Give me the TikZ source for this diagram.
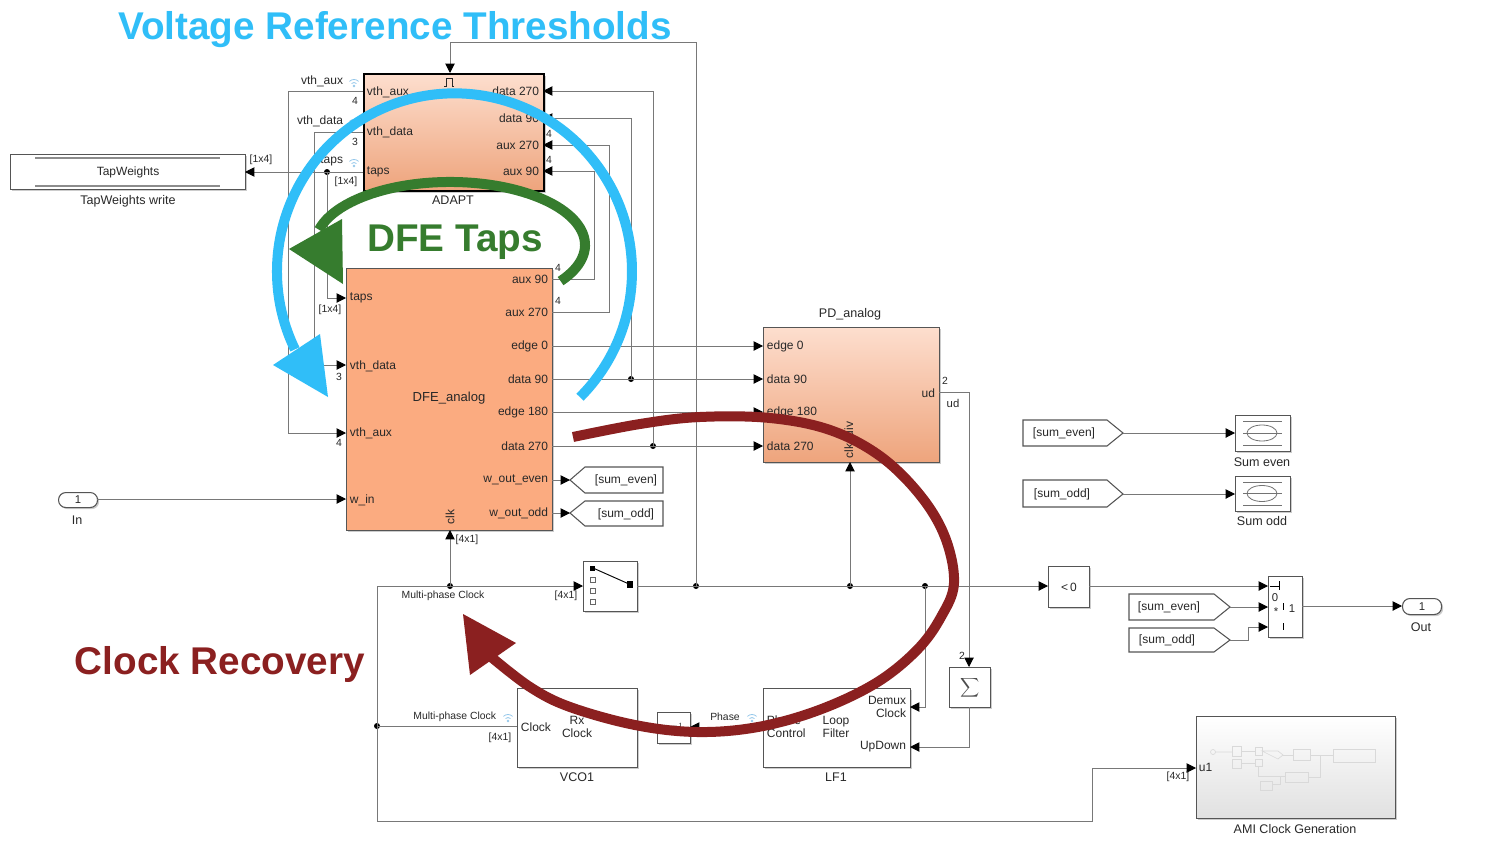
\documentclass[tikz,border=0pt]{standalone}
\usepackage{fontspec}
\setmainfont{Liberation Sans}
\usetikzlibrary{arrows.meta,calc,shadows}
\definecolor{wire}{RGB}{120,120,120}
\definecolor{txt}{RGB}{40,40,40}
\definecolor{bord}{RGB}{85,85,85}
\definecolor{dfefill}{RGB}{251,171,128}
\definecolor{peachtop}{RGB}{253,222,206}
\definecolor{peachbot}{RGB}{238,164,124}
\definecolor{annblue}{RGB}{48,190,248}
\definecolor{anngreen}{RGB}{54,124,46}
\definecolor{annred}{RGB}{139,32,32}
\definecolor{wifiblue}{RGB}{150,200,235}
\newcommand\mkblock[7]{%
  \pgfmathsetmacro\blkw{(#5-#3)*0.75}%
  \pgfmathsetmacro\blkh{(#6-#4)*0.75}%
  \node[#2, minimum width=\blkw pt, minimum height=\blkh pt, inner sep=0pt, anchor=north west, align=center] (#1) at (#3,#4) {#7};}
\begin{document}
\begin{tikzpicture}[x=0.75pt,y=-0.75pt,
  wire/.style={draw=wire, line width=0.75pt},
  arr/.style={draw=wire, line width=0.75pt, -{Triangle[length=7pt,width=7pt,color=black]}},
  jdot/.style={circle, fill=black, inner sep=0pt, minimum size=4.5pt},
  lbl/.style={text=txt, inner sep=0.5pt, font=\fontsize{9}{10}\selectfont},
  sml/.style={text=txt, inner sep=0.5pt, font=\fontsize{7.8}{8.5}\selectfont},
  ttl/.style={text=txt, inner sep=0.5pt, font=\fontsize{9.4}{10}\selectfont},
  bbase/.style={draw=bord, line width=0.8pt, drop shadow={shadow xshift=1.2pt, shadow yshift=-1.2pt, opacity=0.2, fill=black}},
  wblk/.style={bbase, fill=white, text=txt, font=\fontsize{9}{10}\selectfont},
  tagst/.style={draw=bord, line width=0.8pt, fill=white},
  ann/.style={line width=7.5pt},
  anntext/.style={font=\fontsize{29}{32}\selectfont\bfseries, inner sep=0pt, anchor=base},
  faint/.style={draw=black!15, line width=0.5pt},
  wifi/.pic={
    \fill[wifiblue] (0,0) circle[radius=1.3];
    \draw[wifiblue, line width=0.6pt] (-2.47,-2.47) arc[start angle=-135,end angle=-45,radius=3.5];
    \draw[wifiblue, line width=0.6pt] (-4.6,-4.6) arc[start angle=-135,end angle=-45,radius=6.5];
  }
]
\fill[white] (0,0) rectangle (1500,853);
\useasboundingbox (0,0) rectangle (1500,853);

% ================= blocks =================
\mkblock{tapw}{wblk}{10}{154}{245}{189}{TapWeights}
\draw[draw=black!45, line width=1.4pt] (35,158) -- (220,158);
\draw[draw=black!45, line width=1.4pt] (35,186) -- (220,186);
\node[ttl] (tapwttl) at (128,201) {TapWeights write};

\mkblock{adapt}{bbase, draw=black, line width=1.5pt, top color=peachtop, bottom color=peachbot}{363}{73}{543}{190}{}
\node[ttl] (adaptttl) at (453,200) {ADAPT};
\draw[txt, line width=0.5pt] (444,86) -- (446,86) -- (446,78) -- (452,78) -- (452,86) -- (454,86);

\mkblock{dfe}{bbase, fill=dfefill}{346}{268}{552}{530}{}
\node[lbl, font=\fontsize{9.8}{11}\selectfont] (dfettl) at (449,398) {DFE\_analog};

\mkblock{pd}{bbase, top color=peachtop, bottom color=peachbot}{763}{327}{939}{462}{}
\node[ttl] (pdttl) at (850,314) {PD\_analog};

\mkblock{sel}{wblk}{583}{561}{637}{611}{}
\fill[black] (590,566) rectangle (595,571);
\draw[black!60, line width=0.5pt] (590,577) rectangle (595,582);
\draw[black!60, line width=0.5pt] (590,588) rectangle (595,593);
\draw[black!60, line width=0.5pt] (590,599) rectangle (595,604);
\fill[black] (627,581) rectangle (633,588);
\draw[black, line width=0.7pt] (593,568) -- (629,584);

\mkblock{ltz}{wblk}{1048}{566}{1089}{607}{<\,0}
\mkblock{swb}{wblk}{1268}{576}{1302}{637}{}
\draw[black, line width=0.5pt] (1270,586) -- (1279,586) (1279,581) -- (1279,590);
\draw[black, line width=0.5pt] (1283,603) -- (1283,610);
\draw[black, line width=0.5pt] (1283,623) -- (1283,630);
\node[sml, font=\fontsize{8.5}{9}\selectfont] (sw0) at (1275,598) {0};
\node[sml, font=\fontsize{8.5}{9}\selectfont] (swst) at (1276,612) {*};
\node[sml, font=\fontsize{8.5}{9}\selectfont] (sw1) at (1292,609) {1};

\mkblock{vco}{wblk}{517}{688}{637}{767}{}
\node[ttl] (vcottl) at (577,777) {VCO1};
\mkblock{zd}{wblk}{657}{712}{690}{743}{z$^{-1}$}
\mkblock{lf}{wblk}{763}{688}{910}{767}{}
\node[ttl] (lfttl) at (836,777) {LF1};
\mkblock{sig}{wblk}{949}{667}{990}{707}{}
\node[text=black!70, font=\fontsize{13}{13}\selectfont, inner sep=0pt] (sigsym) at (sig.center) {$\displaystyle\sum$};

\mkblock{ami}{bbase, top color=white, bottom color=black!12}{1196}{716}{1395}{818}{}
\node[ttl] (amittl) at (1295,829) {AMI Clock Generation};
\draw[faint] (1213,752) circle[radius=2.5] (1216,752) -- (1232,752);
\draw[faint] (1232,746) rectangle (1241,756) (1232,759) rectangle (1241,768);
\draw[faint] (1241,751) -- (1255,751) (1241,763) -- (1255,763);
\draw[faint] (1255,747) rectangle (1262,755) (1255,759) rectangle (1262,766);
\draw[faint] (1262,751) -- (1278,751) -- (1283,755) -- (1278,759) -- cycle;
\draw[faint] (1283,755) -- (1293,755) (1293,749) rectangle (1310,760) (1310,755) -- (1333,755);
\draw[faint] (1333,749) rectangle (1375,762);
\draw[faint] (1258,766) -- (1258,776) -- (1285,776) (1285,772) rectangle (1308,782) (1308,777) -- (1320,777) -- (1320,755);
\draw[faint] (1260,781) rectangle (1272,790) (1272,784) -- (1280,784) -- (1280,777);

\mkblock{sc1}{wblk}{1235}{415}{1290}{451}{}
\draw[black!55, line width=0.5pt] (1243,421) -- (1282,421) (1243,445) -- (1282,445) (1243,433) -- (1282,433);
\draw[black!55, line width=0.6pt] (1262,433) ellipse[x radius=15, y radius=8];
\node[ttl] (sc1ttl) at (1262,462) {Sum even};
\mkblock{sc2}{wblk}{1235}{476}{1290}{511}{}
\draw[black!55, line width=0.5pt] (1243,482) -- (1282,482) (1243,505) -- (1282,505) (1243,493.5) -- (1282,493.5);
\draw[black!55, line width=0.6pt] (1262,493.5) ellipse[x radius=15, y radius=8];
\node[ttl] (sc2ttl) at (1262,521) {Sum odd};

\mkblock{inp}{bbase, fill=white, rounded corners=5.5pt, text=txt, font=\fontsize{8.5}{9}\selectfont}{58}{492}{97}{507}{1}
\node[ttl] (inttl) at (77,520) {In};
\mkblock{outp}{bbase, fill=white, rounded corners=5.5pt, text=txt, font=\fontsize{8.5}{9}\selectfont}{1402}{598}{1441}{614}{1}
\node[ttl] (outttl) at (1421,627) {Out};

% goto / from tags
\draw[tagst] (570,480) -- (585,467) -- (663,467) -- (663,493) -- (585,493) -- cycle;
\node[lbl] (gte) at (626,480) {[sum\_even]};
\draw[tagst] (570,513) -- (585,501) -- (663,501) -- (663,526) -- (585,526) -- cycle;
\node[lbl] (gto) at (626,514) {[sum\_odd]};
\draw[tagst] (1023,420) -- (1107,420) -- (1123,433) -- (1107,446) -- (1023,446) -- cycle;
\node[lbl] (fe1) at (1064,433) {[sum\_even]};
\draw[tagst] (1023,480) -- (1107,480) -- (1123,494) -- (1107,507) -- (1023,507) -- cycle;
\node[lbl] (fo1) at (1062,494) {[sum\_odd]};
\draw[tagst] (1129,594) -- (1214,594) -- (1230,607) -- (1214,620) -- (1129,620) -- cycle;
\node[lbl] (fe2) at (1169,607) {[sum\_even]};
\draw[tagst] (1129,628) -- (1214,628) -- (1230,640) -- (1214,652) -- (1129,652) -- cycle;
\node[lbl] (fo2) at (1167,640) {[sum\_odd]};

% ================= port coordinates =================
\coordinate (a-vaux) at (363,91);  \coordinate (a-vdata) at (363,132); \coordinate (a-taps) at (363,172);
\coordinate (a-d270) at (543,91);  \coordinate (a-d90) at (543,118);  \coordinate (a-x270) at (543,145);
\coordinate (a-x90) at (543,171);  \coordinate (a-trig) at (450,73);
\coordinate (d-taps) at (346,298); \coordinate (d-vdata) at (346,365); \coordinate (d-vaux) at (346,433);
\coordinate (d-win) at (346,499);
\coordinate (d-x90) at (552,279);  \coordinate (d-x270) at (552,312); \coordinate (d-e0) at (552,346);
\coordinate (d-d90) at (552,379);  \coordinate (d-e180) at (552,412); \coordinate (d-d270) at (552,446);
\coordinate (d-we) at (552,480);   \coordinate (d-wo) at (552,513);   \coordinate (d-clk) at (450,530);
\coordinate (p-e0) at (763,346);   \coordinate (p-d90) at (763,379);  \coordinate (p-e180) at (763,412);
\coordinate (p-d270) at (763,446); \coordinate (p-ud) at (939,392);   \coordinate (p-clk) at (850,462);
\coordinate (g-even) at (570,480); \coordinate (g-odd) at (570,513);
\coordinate (in-o) at (97,499);
\coordinate (sel-in) at (583,586); \coordinate (sel-out) at (637,586);
\coordinate (ltz-in) at (1048,586); \coordinate (ltz-out) at (1089,586);
\coordinate (sw-in1) at (1268,586); \coordinate (sw-in2) at (1268,607); \coordinate (sw-in3) at (1268,627);
\coordinate (sw-out) at (1302,606); \coordinate (out-in) at (1402,606);
\coordinate (v-clk) at (517,726); \coordinate (v-in) at (637,727);
\coordinate (zd-in) at (690,727); \coordinate (zd-out) at (657,727);
\coordinate (l-ph) at (763,727); \coordinate (l-dc) at (910,707); \coordinate (l-ud) at (910,747);
\coordinate (sig-in) at (969,667); \coordinate (sig-out) at (969,707);
\coordinate (ami-u1) at (1196,768); \coordinate (tapw-in) at (245,172);
\coordinate (sc1-in) at (1235,433); \coordinate (sc2-in) at (1235,494);
\coordinate (fe1-o) at (1123,433); \coordinate (fo1-o) at (1123,494);
\coordinate (fe2-o) at (1230,607); \coordinate (fo2-o) at (1230,640);

% junctions
\node[jdot] (j-taps) at (327,172) {};
\node[jdot] (j-d90) at (631,379) {};
\node[jdot] (j-d270) at (653,446) {};
\node[jdot] (j-dclk) at (450,586) {};
\node[jdot] (j-696) at (696,586) {};
\node[jdot] (j-850) at (850,586) {};
\node[jdot] (j-925) at (925,586) {};
\node[jdot] (j-vco) at (377,726) {};

% ================= wires =================
\draw[arr] (a-vaux) -- (288,91) |- (d-vaux);
\draw[arr] (a-vdata) -- (314,132) |- (d-vdata);
\draw[arr] (a-taps) -- (tapw-in);
\draw[arr] (j-taps.center) |- (d-taps);
\draw[arr] (d-x90) -- (594,279) |- (a-x90);
\draw[arr] (d-x270) -- (609,312) |- (a-x270);
\draw[arr] (j-d90.center) |- (a-d90);
\draw[arr] (j-d270.center) |- (a-d270);
\draw[arr] (j-696.center) -- (696,42) -| (a-trig);
\draw[arr] (d-e0) -- (p-e0);
\draw[arr] (d-d90) -- (p-d90);
\draw[arr] (d-e180) -- (p-e180);
\draw[arr] (d-d270) -- (p-d270);
\draw[arr] (d-we) -- (g-even);
\draw[arr] (d-wo) -- (g-odd);
\draw[arr] (in-o) -- (d-win);
\draw[arr] (j-dclk.center) -- (d-clk);
\draw[wire] (v-clk) -- (j-vco.center);
\draw[arr] (j-vco.center) -- (377,586) -- (sel-in);
\draw[arr] (j-vco.center) -- (377,821) -- (1092,821) -- (1092,768) -- (ami-u1);
\draw[arr] (sel-out) -- (ltz-in);
\draw[arr] (j-850.center) -- (p-clk);
\draw[arr] (j-925.center) |- (l-dc);
\draw[arr] (p-ud) -| (sig-in);
\draw[arr] (sig-out) |- (l-ud);
\draw[arr] (l-ph) -- (zd-in);
\draw[arr] (zd-out) -- (v-in);
\draw[arr] (ltz-out) -- (sw-in1);
\draw[arr] (fe2-o) -- (sw-in2);
\draw[arr] (fo2-o) -- (1248,640) |- (sw-in3);
\draw[arr] (sw-out) -- (out-in);
\draw[arr] (fe1-o) -- (sc1-in);
\draw[arr] (fo1-o) -- (sc2-in);

% ================= port labels =================
% ADAPT inside
\node[lbl, anchor=west] (ai1) at (366,92) {vth\_aux};
\node[lbl, anchor=west] (ai2) at (366,132) {vth\_data};
\node[lbl, anchor=west] (ai3) at (366,172) {taps};
\node[lbl, anchor=east] (ai4) at (540,91) {data 270};
\node[lbl, anchor=east] (ai5) at (540,118) {data 90};
\node[lbl, anchor=east] (ai6) at (540,145) {aux 270};
\node[lbl, anchor=east] (ai7) at (540,171) {aux 90};
% ADAPT outside
\node[lbl, anchor=east] (ao1) at (344,81) {vth\_aux};
\pic at (354,86) {wifi};
\node[sml] (ao2) at (355,101) {4};
\node[lbl, anchor=east] (ao3) at (344,121) {vth\_data};
\pic at (354,126) {wifi};
\node[sml] (ao4) at (355,142) {3};
\node[lbl, anchor=east] (ao5) at (344,161) {taps};
\pic at (354,166) {wifi};
\node[sml] (ao6) at (346,182) {[1x4]};
\node[sml] (ao7) at (549,134) {4};
\node[sml] (ao8) at (549,160) {4};
\node[sml] (tapwdim) at (261,160) {[1x4]};
% DFE inside
\node[lbl, anchor=west] (di1) at (349,298) {taps};
\node[lbl, anchor=west] (di2) at (349,366) {vth\_data};
\node[lbl, anchor=west] (di3) at (349,433) {vth\_aux};
\node[lbl, anchor=west] (di4) at (349,500) {w\_in};
\node[lbl, anchor=east] (di5) at (549,279) {aux 90};
\node[lbl, anchor=east] (di6) at (549,312) {aux 270};
\node[lbl, anchor=east] (di7) at (549,346) {edge 0};
\node[lbl, anchor=east] (di8) at (549,379) {data 90};
\node[lbl, anchor=east] (di9) at (549,412) {edge 180};
\node[lbl, anchor=east] (di10) at (549,446) {data 270};
\node[lbl, anchor=east] (di11) at (549,480) {w\_out\_even};
\node[lbl, anchor=east] (di12) at (549,513) {w\_out\_odd};
\node[lbl, rotate=90] (di13) at (450,517) {clk};
% DFE outside
\node[sml] (do1) at (330,310) {[1x4]};
\node[sml] (do2) at (339,377) {3};
\node[sml] (do3) at (339,443) {4};
\node[sml] (do4) at (558,268) {4};
\node[sml] (do5) at (558,301) {4};
\node[sml] (do6) at (467,540) {[4x1]};
% PD
\node[lbl, anchor=west] (pi1) at (766,346) {edge 0};
\node[lbl, anchor=west] (pi2) at (766,379) {data 90};
\node[lbl, anchor=west] (pi3) at (766,412) {edge 180};
\node[lbl, anchor=west] (pi4) at (766,446) {data 270};
\node[lbl, anchor=east] (pi5) at (936,393) {ud};
\node[lbl, rotate=90] (pi6) at (850,440) {clk\_div};
\node[sml] (po1) at (945,381) {2};
\node[sml, font=\fontsize{8.5}{9}\selectfont] (po2) at (953,403) {ud};
\node[sml] (po3) at (962,656) {2};
% clock line
\node[sml] (mpc1) at (443,596) {Multi-phase Clock};
\node[sml] (seldim) at (566,596) {[4x1]};
% VCO
\node[lbl, anchor=west] (vi1) at (520,727) {Clock};
\node[lbl, align=center, font=\fontsize{9}{10}\selectfont] (vi2) at (577,727) {Rx\\Clock};
\node[sml, anchor=east] (vo1) at (497,717) {Multi-phase Clock};
\pic at (508,721) {wifi};
\node[sml] (vo2) at (500,738) {[4x1]};
% LF
\node[lbl, align=left, anchor=west, font=\fontsize{9}{10}\selectfont] (li1) at (766,727) {Phase\\Control};
\node[lbl, align=center, font=\fontsize{9}{10}\selectfont] (li2) at (836,727) {Loop\\Filter};
\node[lbl, align=right, anchor=east, font=\fontsize{9}{10}\selectfont] (li3) at (907,707) {Demux\\Clock};
\node[lbl, anchor=east] (li4) at (907,747) {UpDown};
\node[sml] (lo1) at (725,717) {Phase};
\pic at (752,721) {wifi};
% AMI
\node[sml] (amid) at (1178,777) {[4x1]};
\node[lbl, anchor=west] (amiu) at (1198,767) {u1};

% ================= annotations =================
\draw[annblue, ann] (580.0,397.2) arc[start angle=45, end angle=-206, x radius=177.5, y radius=178];
\fill[annblue] (273,365) -- (320,334) -- (328,397) -- cycle;
\draw[anngreen, ann] (560.6,281.1) arc[start angle=35, end angle=-166, x radius=135, y radius=63];
\fill[anngreen] (289,249) -- (342,219) -- (343,284) -- cycle;
\draw[annred, ann] plot[smooth, tension=0.6] coordinates {(573,437) (640,424) (700,417) (770,418) (830,430) (880,456) (920,495) (945,537) (954,583) (941,617) (917,650) (876,683) (819,710) (758,727) (697,732) (635,725) (570,707) (530,687) (490,656)};
\fill[annred] (463,614) -- (516,643) -- (470,675) -- cycle;

\node[anntext, text=annblue] (tvrt) at (395,40) {Voltage Reference Thresholds};
\node[anntext, text=anngreen] (tdfe) at (455,251) {DFE Taps};
\node[anntext, text=annred] (tcr) at (220,674) {Clock Recovery};
\end{tikzpicture}
\end{document}
